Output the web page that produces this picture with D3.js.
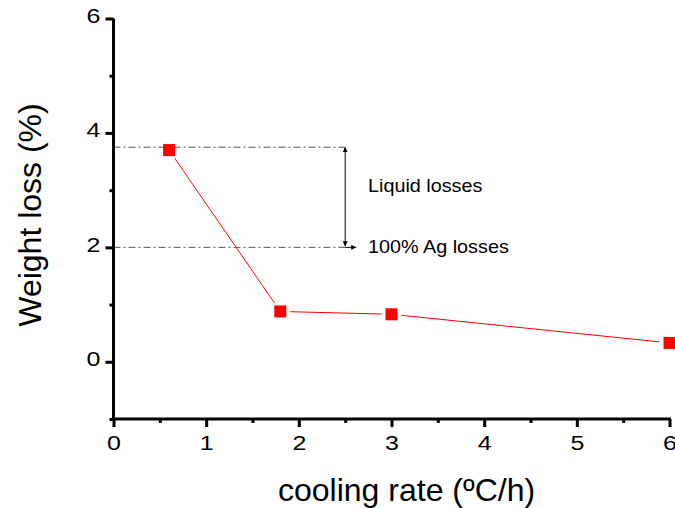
<!DOCTYPE html>
<html><head><meta charset="utf-8">
<script src="https://cdn.jsdelivr.net/npm/d3@7"></script>
<style>body{margin:0;background:#fff}svg{display:block}text{font-family:Arial,"Liberation Sans",sans-serif}</style>
</head><body><svg id="c" width="675" height="508"></svg>
<script>
const coolingRate = [0.6, 1.8, 3.0, 6.0];
const weightLoss = [3.7, 0.88, 0.83, 0.33];
const xTicks = [0, 1, 2, 3, 4, 5, 6];
const yTicks = [0, 2, 4, 6];
const refLevels = [3.75, 2.0];
const annotations = ["Liquid losses", "100% Ag losses"];
const xTitle = "cooling rate (ºC/h)";
const yTitle = "Weight loss (%)";

const svg = d3.select("#c");
const x = d3.scaleLinear().domain([0, 6]).range([113.5, 669.5]);
const y = d3.scaleLinear().domain([-1, 6]).range([419, 18.5]);

// reference dash-dot lines
svg.selectAll(".ref").data(refLevels).enter().append("line")
  .attr("x1", x(0)).attr("x2", x(2.5)).attr("y1", d => y(d)).attr("y2", d => y(d))
  .attr("stroke", "#555").attr("stroke-width", 1).attr("stroke-dasharray", "7,3,2,3");

// arrows
const defs = svg.append("defs");
defs.append("marker").attr("id", "ah").attr("viewBox", "0 0 10 10").attr("refX", 10).attr("refY", 5)
  .attr("markerWidth", 5).attr("markerHeight", 5).attr("orient", "auto-start-reverse")
  .append("path").attr("d", "M0,0L10,5L0,10z").attr("fill", "#000");
const ax = x(2.5);
svg.append("line").attr("x1", ax).attr("x2", ax).attr("y1", y(refLevels[0])).attr("y2", y(refLevels[1]) - 1)
  .attr("stroke", "#000").attr("stroke-width", 1)
  .attr("marker-start", "url(#ah)").attr("marker-end", "url(#ah)");
svg.append("line").attr("x1", ax).attr("x2", ax + 11).attr("y1", y(refLevels[1])).attr("y2", y(refLevels[1]))
  .attr("stroke", "#000").attr("stroke-width", 1).attr("marker-end", "url(#ah)");

const sA = 1.1;
svg.append("text").attr("transform", `translate(368,192) scale(${sA},1)`)
  .attr("font-size", 18).text(annotations[0]);
svg.append("text").attr("transform", `translate(368,253) scale(${sA},1)`)
  .attr("font-size", 18).text(annotations[1]);

// data line with gaps near markers
const pts = coolingRate.map((d, i) => [x(d), y(weightLoss[i])]);
for (let i = 0; i < pts.length - 1; i++) {
  const [x1, y1] = pts[i], [x2, y2] = pts[i + 1];
  const len = Math.hypot(x2 - x1, y2 - y1), g = 10;
  const ux = (x2 - x1) / len, uy = (y2 - y1) / len;
  svg.append("line").attr("x1", x1 + ux * g).attr("y1", y1 + uy * g)
    .attr("x2", x2 - ux * g).attr("y2", y2 - uy * g)
    .attr("stroke", "#ff0000").attr("stroke-width", 1);
}
svg.selectAll(".pt").data(coolingRate).enter().append("rect")
  .attr("x", d => x(d) - 6).attr("y", (d, i) => y(weightLoss[i]) - 6)
  .attr("width", 12).attr("height", 12).attr("fill", "#ff0000");

// axes
const sT = 1.25;
const xAxis = d3.axisBottom(x).tickValues(xTicks).tickSize(8).tickPadding(9).tickFormat(d3.format("d"));
const xMinor = d3.axisBottom(x).tickValues(d3.range(0.5, 6, 1)).tickSize(4).tickFormat("");
const yAxis = d3.axisLeft(y).tickValues(yTicks).tickSize(8).tickPadding(5).tickFormat(d3.format("d"));
const yMinor = d3.axisLeft(y).tickValues([-1, 1, 3, 5]).tickSize(4).tickFormat("");

function style(g) {
  g.attr("font-size", 20);
  g.select(".domain").remove();
  g.selectAll("line").attr("stroke", "#000").attr("stroke-width", 3);
  g.selectAll("text").attr("font-size", 20).attr("fill", "#000")
    .attr("font-family", "Arial, Liberation Sans, sans-serif");
}
const gx = svg.append("g").attr("transform", `translate(0,${y(-1)})`).call(xAxis); style(gx);
gx.selectAll("text").attr("transform", `scale(${sT},1)`);
const gxm = svg.append("g").attr("transform", `translate(0,${y(-1)})`).call(xMinor); style(gxm);
const gy = svg.append("g").attr("transform", `translate(${x(0)},0)`).call(yAxis); style(gy);
gy.selectAll("text").attr("x", -13 / sT).attr("dy", "0.2em").attr("transform", `scale(${sT},1)`);
const gym = svg.append("g").attr("transform", `translate(${x(0)},0)`).call(yMinor); style(gym);

svg.append("line").attr("x1", x(0) - 1.5).attr("x2", x(6) + 1.5).attr("y1", y(-1)).attr("y2", y(-1))
  .attr("stroke", "#000").attr("stroke-width", 3);
svg.append("line").attr("x1", x(0)).attr("x2", x(0)).attr("y1", y(6)).attr("y2", y(-1))
  .attr("stroke", "#000").attr("stroke-width", 3);

svg.append("text").attr("x", 278).attr("y", 501).attr("text-anchor", "start")
  .attr("font-size", 32).text(xTitle);
svg.append("text").attr("transform", `translate(41,215) rotate(-90)`)
  .attr("text-anchor", "middle").attr("font-size", 32).text(yTitle);
</script></body></html>
